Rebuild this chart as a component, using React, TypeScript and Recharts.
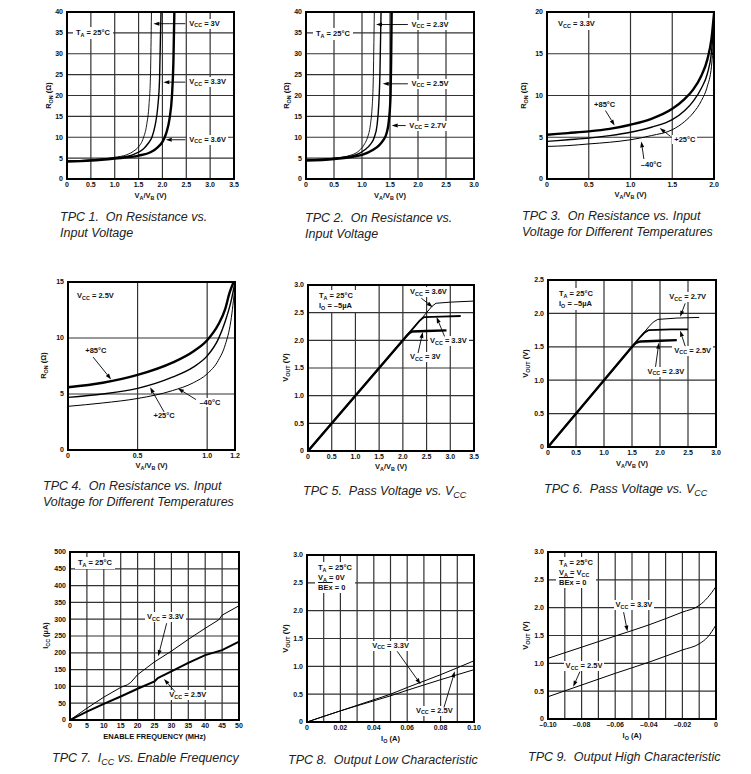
import React, { ReactNode } from "react";
import { CartesianGrid, Line, LineChart, XAxis, YAxis } from "recharts";

const FONT = '"Liberation Sans", Arial, Helvetica, sans-serif';

// ---- TPC1: R_ON vs V_A/V_B, T_A = 25°C ----
const tpc1X3V = [0, 0.5, 1.0, 1.25, 1.4, 1.5, 1.6, 1.67, 1.72, 1.75, 1.77];
const tpc1R3V = [4.3, 4.6, 5.2, 5.8, 6.7, 7.7, 9.8, 13, 18, 25, 40];
const tpc1X33V = [0, 0.5, 1.0, 1.4, 1.6, 1.7, 1.78, 1.85, 1.9, 1.94, 1.97];
const tpc1R33V = [4.3, 4.5, 5.0, 5.9, 7.2, 8.5, 10, 13, 17, 24, 40];
const tpc1X36V = [0, 0.5, 1.0, 1.5, 1.75, 1.9, 2.0, 2.08, 2.15, 2.2, 2.23, 2.25];
const tpc1R36V = [4.2, 4.4, 4.9, 5.6, 6.4, 7.6, 8.9, 11, 14.5, 20, 28, 40];

// ---- TPC2 ----
const tpc2X23V = [0, 0.5, 0.8, 0.95, 1.05, 1.1, 1.15, 1.18, 1.2, 1.22];
const tpc2R23V = [4.6, 5.0, 5.7, 6.8, 8.5, 10, 13, 17, 23, 40];
const tpc2X25V = [0, 0.5, 0.9, 1.05, 1.15, 1.22, 1.27, 1.3, 1.32, 1.34];
const tpc2R25V = [4.5, 4.9, 5.8, 7.0, 8.3, 10, 13, 18, 25, 40];
const tpc2X27V = [0, 0.5, 1.0, 1.2, 1.3, 1.38, 1.44, 1.48, 1.51, 1.52, 1.53];
const tpc2R27V = [4.4, 4.8, 5.8, 7.0, 8.0, 9.3, 11, 14, 20, 28, 40];

// ---- TPC3: V_CC = 3.3V, temperatures ----
const tpc3X = [0, 0.25, 0.5, 0.75, 1.0, 1.25, 1.5, 1.65, 1.75, 1.85, 1.92, 1.97, 2.0];
const tpc3R85 = [5.3, 5.5, 5.7, 6.0, 6.5, 7.2, 8.4, 9.6, 10.7, 12.4, 14.3, 16.8, 19.8];
const tpc3R25 = [4.5, 4.7, 4.9, 5.2, 5.6, 6.2, 7.1, 8.2, 9.3, 10.9, 12.6, 15.2, 19.0];
const tpc3Rm40 = [3.9, 4.0, 4.2, 4.4, 4.7, 5.2, 5.9, 6.9, 7.9, 9.4, 11.1, 13.5, 17.5];

// ---- TPC4: V_CC = 2.5V, temperatures ----
const tpc4X85 = [0, 0.25, 0.5, 0.75, 0.9, 1.0, 1.08, 1.13, 1.16, 1.19];
const tpc4R85 = [5.6, 6.0, 6.7, 7.8, 8.8, 9.8, 11.2, 12.6, 14.0, 15];
const tpc4X = [0, 0.25, 0.5, 0.75, 0.9, 1.0, 1.08, 1.13, 1.17, 1.2];
const tpc4R25 = [4.7, 5.0, 5.5, 6.5, 7.4, 8.4, 9.9, 11.5, 13.2, 15];
const tpc4Rm40 = [3.9, 4.2, 4.6, 5.3, 6.0, 6.8, 8.0, 9.4, 11.5, 14.6];

// ---- TPC5: pass voltage ----
const tpc5X3V = [0, 2.1, 2.15, 2.2, 2.5, 2.92];
const tpc5V3V = [0, 2.1, 2.14, 2.16, 2.17, 2.18];
const tpc5X33V = [0, 2.35, 2.4, 2.45, 2.8, 3.22];
const tpc5V33V = [0, 2.35, 2.39, 2.42, 2.43, 2.44];
const tpc5X36V = [0, 2.55, 2.62, 2.7, 3.0, 3.5];
const tpc5V36V = [0, 2.55, 2.62, 2.67, 2.69, 2.71];

// ---- TPC6 ----
const tpc6X23V = [0, 1.52, 1.57, 1.65, 2.0, 2.3];
const tpc6V23V = [0, 1.52, 1.56, 1.58, 1.59, 1.6];
const tpc6X25V = [0, 1.65, 1.72, 1.8, 2.2, 2.5];
const tpc6V25V = [0, 1.65, 1.71, 1.75, 1.76, 1.76];
const tpc6X27V = [0, 1.8, 1.88, 1.96, 2.3, 2.7];
const tpc6V27V = [0, 1.8, 1.87, 1.91, 1.93, 1.94];

// ---- TPC7: I_CC vs enable frequency ----
const tpc7F33V = [0, 5, 10, 15, 17, 18, 20, 25, 30, 35, 40, 44, 45, 50];
const tpc7I33V = [0, 35, 68, 97, 105, 112, 135, 173, 205, 240, 273, 298, 312, 340];
const tpc7F25V = [0, 5, 10, 15, 20, 25, 26, 27, 30, 35, 40, 45, 50];
const tpc7I25V = [0, 25, 48, 70, 93, 115, 125, 130, 145, 170, 193, 208, 233];

// ---- TPC8: output low ----
const tpc8I = [0, 0.02, 0.04, 0.05, 0.06, 0.08, 0.1];
const tpc8V33V = [0, 0.2, 0.4, 0.5, 0.62, 0.85, 1.1];
const tpc8V25V = [0, 0.2, 0.38, 0.47, 0.57, 0.76, 0.94];

// ---- TPC9: output high ----
const tpc9I = [-0.1, -0.08, -0.06, -0.04, -0.02, -0.01, -0.005, 0];
const tpc9V33V = [1.09, 1.29, 1.49, 1.69, 1.92, 2.04, 2.18, 2.38];
const tpc9V25V = [0.4, 0.61, 0.82, 1.02, 1.24, 1.35, 1.47, 1.69];

const range = (a: number, b: number, step: number) => {
  const out: number[] = [];
  for (let i = 0; a + i * step <= b + step / 1000; i++) out.push(+(a + i * step).toFixed(4));
  return out;
};
const pts = (xs: number[], ys: number[]) => xs.map((x, i) => ({ x, y: ys[i] }));

const fmt1 = (v: number) => (v === 0 ? "0" : v.toFixed(1));
const fmtInt = (v: number) => String(v);
const fmtCent = (v: number) => {
  const k = Math.round(v * 100);
  if (k % 2 !== 0) return "";
  if (k === 0) return "0";
  return (v < 0 ? "–" : "") + Math.abs(v).toFixed(2);
};

const Sub = ({ children }: { children: ReactNode }) => (
  <span style={{ fontSize: "0.72em", position: "relative", top: "0.3em" }}>{children}</span>
);
const Vcc = ({ v }: { v: string }) => (
  <>
    V<Sub>CC</Sub> = {v}
  </>
);
const Ta = () => (
  <>
    T<Sub>A</Sub> = 25°C
  </>
);
const Io5 = () => (
  <>
    I<Sub>O</Sub> = –5µA
  </>
);
const VaVb = () => (
  <>
    V<Sub>A</Sub>/V<Sub>B</Sub> (V)
  </>
);
const Ron = () => (
  <>
    R<Sub>ON</Sub> (Ω)
  </>
);
const Vout = () => (
  <>
    V<Sub>OUT</Sub> (V)
  </>
);

type Rect = { x: number; y: number; w: number; h: number };
type Series = { data: { x: number; y: number }[]; width: number; curve?: "monotone" | "linear" };
type Note = { at: [number, number]; text: ReactNode; tail?: [number, number]; tip?: [number, number] };
type Panel = {
  rect: Rect;
  xDomain: [number, number];
  yDomain: [number, number];
  xTicks: number[];
  yTicks: number[];
  xFmt: (v: number) => string;
  yFmt: (v: number) => string;
  xTitle: ReactNode;
  yTitle: ReactNode;
  yTitleDx: number;
  xTitleDy: number;
  series: Series[];
  info: { dx: number; dy: number; lines: ReactNode[] };
  notes: Note[];
  caption: ReactNode[];
  capPos: [number, number];
};

const panels: Panel[] = [
  {
    rect: { x: 67, y: 12, w: 167, h: 167 },
    xDomain: [0, 3.5], yDomain: [0, 40],
    xTicks: range(0, 3.5, 0.5), yTicks: range(0, 40, 5),
    xFmt: fmt1, yFmt: fmtInt,
    xTitle: <VaVb />, yTitle: <Ron />, yTitleDx: -19, xTitleDy: 17,
    series: [
      { data: pts(tpc1X3V, tpc1R3V), width: 0.9 },
      { data: pts(tpc1X33V, tpc1R33V), width: 1.4 },
      { data: pts(tpc1X36V, tpc1R36V), width: 2.4 },
    ],
    info: { dx: 6, dy: 15, lines: [<Ta />] },
    notes: [
      { at: [2.52, 37.2], text: <Vcc v="3V" />, tail: [2.48, 37.2], tip: [1.81, 37.2] },
      { at: [2.52, 23.2], text: <Vcc v="3.3V" />, tail: [2.48, 23.2], tip: [2.02, 23.2] },
      { at: [2.52, 9.4], text: <Vcc v="3.6V" />, tail: [2.48, 9.4], tip: [2.07, 9.4] },
    ],
    caption: ["TPC 1.  On Resistance vs.", "Input Voltage"],
    capPos: [60, 217],
  },
  {
    rect: { x: 306, y: 12, w: 168, h: 167 },
    xDomain: [0, 3.0], yDomain: [0, 40],
    xTicks: range(0, 3, 0.5), yTicks: range(0, 40, 5),
    xFmt: fmt1, yFmt: fmtInt,
    xTitle: <VaVb />, yTitle: <Ron />, yTitleDx: -20, xTitleDy: 17,
    series: [
      { data: pts(tpc2X23V, tpc2R23V), width: 0.9 },
      { data: pts(tpc2X25V, tpc2R25V), width: 1.4 },
      { data: pts(tpc2X27V, tpc2R27V), width: 2.4 },
    ],
    info: { dx: 7, dy: 16, lines: [<Ta />] },
    notes: [
      { at: [1.85, 37], text: <Vcc v="2.3V" />, tail: [1.82, 37], tip: [1.25, 37] },
      { at: [1.85, 22.8], text: <Vcc v="2.5V" />, tail: [1.82, 22.8], tip: [1.37, 22.8] },
      { at: [1.81, 12.8], text: <Vcc v="2.7V" />, tail: [1.78, 12.8], tip: [1.53, 12.8] },
    ],
    caption: ["TPC 2.  On Resistance vs.", "Input Voltage"],
    capPos: [305, 218],
  },
  {
    rect: { x: 547, y: 12, w: 167, h: 167 },
    xDomain: [0, 2.0], yDomain: [0, 20],
    xTicks: range(0, 2, 0.5), yTicks: range(0, 20, 5),
    xFmt: fmt1, yFmt: fmtInt,
    xTitle: <VaVb />, yTitle: <Ron />, yTitleDx: -24, xTitleDy: 16,
    series: [
      { data: pts(tpc3X, tpc3Rm40), width: 1.0 },
      { data: pts(tpc3X, tpc3R25), width: 1.4 },
      { data: pts(tpc3X, tpc3R85), width: 2.4 },
    ],
    info: { dx: 8, dy: 6, lines: [<Vcc v="3.3V" />] },
    notes: [
      { at: [0.54, 8.9], text: "+85°C", tail: [0.7, 8.2], tip: [0.81, 6.4] },
      { at: [1.5, 4.7], text: "+25°C", tail: [1.48, 5.1], tip: [1.35, 6.1] },
      { at: [1.1, 1.7], text: "–40°C", tail: [1.16, 2.4], tip: [1.13, 4.5] },
    ],
    caption: ["TPC 3.  On Resistance vs. Input", "Voltage for Different Temperatures"],
    capPos: [522, 216],
  },
  {
    rect: { x: 68, y: 282, w: 167, h: 168 },
    xDomain: [0, 1.2], yDomain: [0, 15],
    xTicks: [0, 0.5, 1.0, 1.2], yTicks: [0, 5, 10, 15],
    xFmt: fmt1, yFmt: fmtInt,
    xTitle: <VaVb />, yTitle: <Ron />, yTitleDx: -25, xTitleDy: 16,
    series: [
      { data: pts(tpc4X, tpc4Rm40), width: 1.0 },
      { data: pts(tpc4X, tpc4R25), width: 1.4 },
      { data: pts(tpc4X85, tpc4R85), width: 2.4 },
    ],
    info: { dx: 6, dy: 8, lines: [<Vcc v="2.5V" />] },
    notes: [
      { at: [0.11, 8.8], text: "+85°C", tail: [0.18, 8.3], tip: [0.31, 6.3] },
      { at: [0.6, 3.0], text: "+25°C", tail: [0.69, 3.4], tip: [0.59, 5.6] },
      { at: [0.93, 4.2], text: "–40°C", tail: [0.92, 4.5], tip: [0.79, 5.5] },
    ],
    caption: ["TPC 4.  On Resistance vs. Input", "Voltage for Different Temperatures"],
    capPos: [43, 486],
  },
  {
    rect: { x: 308, y: 285, w: 166, h: 166 },
    xDomain: [0, 3.5], yDomain: [0, 3.0],
    xTicks: range(0, 3.5, 0.5), yTicks: range(0, 3, 0.5),
    xFmt: fmt1, yFmt: fmt1,
    xTitle: <VaVb />, yTitle: <Vout />, yTitleDx: -23, xTitleDy: 16,
    series: [
      { data: pts(tpc5X36V, tpc5V36V), width: 1.0, curve: "linear" },
      { data: pts(tpc5X33V, tpc5V33V), width: 1.8, curve: "linear" },
      { data: pts(tpc5X3V, tpc5V3V), width: 2.4, curve: "linear" },
    ],
    info: { dx: 8, dy: 5, lines: [<Ta />, <Io5 />] },
    notes: [
      { at: [2.11, 2.87], text: <Vcc v="3.6V" />, tail: [2.39, 2.76], tip: [2.63, 2.6] },
      { at: [2.53, 1.98], text: <Vcc v="3.3V" />, tail: [2.88, 2.07], tip: [2.71, 2.42] },
      { at: [2.11, 1.7], text: <Vcc v="3V" />, tail: [2.32, 1.77], tip: [2.42, 2.15] },
    ],
    caption: [<>TPC 5.  Pass Voltage vs. V<Sub>CC</Sub></>],
    capPos: [303, 491],
  },
  {
    rect: { x: 548, y: 280, w: 168, h: 167 },
    xDomain: [0, 3.0], yDomain: [0, 2.5],
    xTicks: range(0, 3, 0.5), yTicks: range(0, 2.5, 0.5),
    xFmt: fmt1, yFmt: fmt1,
    xTitle: <VaVb />, yTitle: <Vout />, yTitleDx: -23, xTitleDy: 17,
    series: [
      { data: pts(tpc6X27V, tpc6V27V), width: 1.0, curve: "linear" },
      { data: pts(tpc6X25V, tpc6V25V), width: 1.8, curve: "linear" },
      { data: pts(tpc6X23V, tpc6V23V), width: 2.4, curve: "linear" },
    ],
    info: { dx: 8, dy: 8, lines: [<Ta />, <Io5 />] },
    notes: [
      { at: [2.13, 2.24], text: <Vcc v="2.7V" />, tail: [2.45, 2.15], tip: [2.36, 1.95] },
      { at: [2.22, 1.44], text: <Vcc v="2.5V" />, tail: [2.45, 1.51], tip: [2.36, 1.74] },
      { at: [1.74, 1.13], text: <Vcc v="2.3V" />, tail: [1.92, 1.2], tip: [1.98, 1.56] },
    ],
    caption: [<>TPC 6.  Pass Voltage vs. V<Sub>CC</Sub></>],
    capPos: [544, 489],
  },
  {
    rect: { x: 70, y: 552, w: 169, h: 168 },
    xDomain: [0, 50], yDomain: [0, 500],
    xTicks: range(0, 50, 5), yTicks: range(0, 500, 50),
    xFmt: fmtInt, yFmt: fmtInt,
    xTitle: "ENABLE FREQUENCY (MHz)",
    yTitle: <>I<Sub>CC</Sub> (µA)</>, yTitleDx: -25, xTitleDy: 17,
    series: [
      { data: pts(tpc7F33V, tpc7I33V), width: 1.0, curve: "linear" },
      { data: pts(tpc7F25V, tpc7I25V), width: 2.0, curve: "linear" },
    ],
    info: { dx: 5, dy: 5, lines: [<Ta />] },
    notes: [
      { at: [22.2, 306], text: <Vcc v="3.3V" />, tail: [28.6, 288], tip: [26.1, 190] },
      { at: [28.8, 74], text: <Vcc v="2.5V" />, tail: [31.1, 84], tip: [27.8, 122] },
    ],
    caption: [<>TPC 7.  I<Sub>CC</Sub> vs. Enable Frequency</>],
    capPos: [52, 758],
  },
  {
    rect: { x: 307, y: 555, w: 167, h: 167 },
    xDomain: [0, 0.1], yDomain: [0, 3.0],
    xTicks: range(0, 0.1, 0.01), yTicks: range(0, 3, 0.5),
    xFmt: fmtCent, yFmt: fmt1,
    xTitle: <>I<Sub>O</Sub> (A)</>, yTitle: <Vout />, yTitleDx: -22, xTitleDy: 17,
    series: [
      { data: pts(tpc8I, tpc8V33V), width: 1.0 },
      { data: pts(tpc8I, tpc8V25V), width: 1.0 },
    ],
    info: {
      dx: 8, dy: 7,
      lines: [<Ta />, <>V<Sub>A</Sub> = 0V</>, <><span style={{ textDecoration: "overline" }}>BEx</span> = 0</>],
    },
    notes: [
      { at: [0.0378, 1.37], text: <Vcc v="3.3V" />, tail: [0.054, 1.27], tip: [0.068, 0.68] },
      { at: [0.064, 0.2], text: <Vcc v="2.5V" />, tail: [0.082, 0.26], tip: [0.0885, 0.91] },
    ],
    caption: ["TPC 8.  Output Low Characteristic"],
    capPos: [288, 760],
  },
  {
    rect: { x: 548, y: 552, w: 168, h: 167 },
    xDomain: [-0.1, 0], yDomain: [0, 3.0],
    xTicks: range(-0.1, 0, 0.01), yTicks: range(0, 3, 0.5),
    xFmt: fmtCent, yFmt: fmt1,
    xTitle: <>I<Sub>O</Sub> (A)</>, yTitle: <Vout />, yTitleDx: -23, xTitleDy: 17,
    series: [
      { data: pts(tpc9I, tpc9V33V), width: 1.0 },
      { data: pts(tpc9I, tpc9V25V), width: 1.0 },
    ],
    info: {
      dx: 8, dy: 5,
      lines: [<Ta />, <>V<Sub>A</Sub> = V<Sub>CC</Sub></>, <><span style={{ textDecoration: "overline" }}>BEx</span> = 0</>],
    },
    notes: [
      { at: [-0.061, 2.04], text: <Vcc v="3.3V" />, tail: [-0.055, 1.92], tip: [-0.0527, 1.57] },
      { at: [-0.0907, 0.95], text: <Vcc v="2.5V" />, tail: [-0.081, 0.85], tip: [-0.085, 0.58] },
    ],
    caption: ["TPC 9.  Output High Characteristic"],
    capPos: [528, 757],
  },
];

const toPx = (p: Panel, x: number, y: number): [number, number] => [
  p.rect.x + ((x - p.xDomain[0]) / (p.xDomain[1] - p.xDomain[0])) * p.rect.w,
  p.rect.y + ((p.yDomain[1] - y) / (p.yDomain[1] - p.yDomain[0])) * p.rect.h,
];

const L = 40;
const T = 6;
const R = 14;
const B = 22;
const tickStyle = { fontSize: 7, fontWeight: 700, fill: "#111", fontFamily: FONT };
const labelStyle: React.CSSProperties = {
  position: "absolute",
  fontSize: 7.5,
  fontWeight: 700,
  lineHeight: "9px",
  background: "#fff",
  padding: "0 2px",
  whiteSpace: "nowrap",
  color: "#111",
};

function PanelChart({ p }: { p: Panel }) {
  const { rect } = p;
  return (
    <>
      <div style={{ position: "absolute", left: rect.x - L, top: rect.y - T }}>
        <LineChart
          width={rect.w + L + R}
          height={rect.h + T + B}
          margin={{ top: T, right: R, left: 0, bottom: 0 }}
        >
          <CartesianGrid stroke="#333" strokeWidth={1.2} />
          <XAxis
            type="number"
            dataKey="x"
            domain={p.xDomain}
            ticks={p.xTicks}
            interval={0}
            allowDataOverflow
            height={B}
            tickLine={false}
            axisLine={false}
            tickSize={0}
            tickMargin={3}
            tick={tickStyle}
            tickFormatter={p.xFmt}
          />
          <YAxis
            type="number"
            dataKey="y"
            domain={p.yDomain}
            ticks={p.yTicks}
            interval={0}
            allowDataOverflow
            width={L}
            tickLine={false}
            axisLine={false}
            tickSize={0}
            tickMargin={4}
            tick={tickStyle}
            tickFormatter={p.yFmt}
          />
          {p.series.map((s, i) => (
            <Line
              key={i}
              data={s.data}
              dataKey="y"
              type={s.curve ?? "monotone"}
              stroke="#000"
              strokeWidth={s.width}
              dot={false}
              isAnimationActive={false}
            />
          ))}
        </LineChart>
      </div>
      {/* info box */}
      <div style={{ ...labelStyle, left: rect.x + p.info.dx, top: rect.y + p.info.dy, padding: "1px 3px" }}>
        {p.info.lines.map((l, i) => (
          <div key={i}>{l}</div>
        ))}
      </div>
      {/* curve notes */}
      {p.notes.map((n, i) => {
        const [nx, ny] = toPx(p, n.at[0], n.at[1]);
        return (
          <div key={i} style={{ ...labelStyle, left: nx, top: ny - 5 }}>
            {n.text}
          </div>
        );
      })}
      {/* frame */}
      <div
        style={{
          position: "absolute",
          left: rect.x - 1,
          top: rect.y - 1,
          width: rect.w + 2,
          height: rect.h + 2,
          border: "2px solid #000",
          boxSizing: "border-box",
        }}
      />
      {/* axis titles */}
      <div
        style={{
          position: "absolute",
          left: rect.x,
          width: rect.w,
          top: rect.y + rect.h + p.xTitleDy - 5,
          textAlign: "center",
          fontSize: 7.5,
          fontWeight: 700,
          color: "#111",
          whiteSpace: "nowrap",
        }}
      >
        {p.xTitle}
      </div>
      <div
        style={{
          position: "absolute",
          left: rect.x + p.yTitleDx - 50,
          top: rect.y + rect.h / 2 - 5,
          width: 100,
          textAlign: "center",
          fontSize: 7.5,
          fontWeight: 700,
          color: "#111",
          whiteSpace: "nowrap",
          transform: "rotate(-90deg)",
        }}
      >
        {p.yTitle}
      </div>
      {/* caption */}
      <div
        style={{
          position: "absolute",
          left: p.capPos[0],
          top: p.capPos[1] - 8,
          fontSize: 12.5,
          fontStyle: "italic",
          lineHeight: "16px",
          color: "#222",
          whiteSpace: "pre",
        }}
      >
        {p.caption.map((c, i) => (
          <div key={i}>{c}</div>
        ))}
      </div>
    </>
  );
}

function Arrows() {
  const items: ReactNode[] = [];
  panels.forEach((p, pi) =>
    p.notes.forEach((n, ni) => {
      if (!n.tail || !n.tip) return;
      const [x1, y1] = toPx(p, n.tail[0], n.tail[1]);
      const [x2, y2] = toPx(p, n.tip[0], n.tip[1]);
      const a = Math.atan2(y2 - y1, x2 - x1);
      const len = 6;
      const hw = 2;
      const bx = x2 - len * Math.cos(a);
      const by = y2 - len * Math.sin(a);
      const px = -Math.sin(a) * hw;
      const py = Math.cos(a) * hw;
      items.push(
        <g key={`${pi}-${ni}`}>
          <line x1={x1} y1={y1} x2={bx} y2={by} stroke="#000" strokeWidth={0.9} />
          <polygon points={`${x2},${y2} ${bx + px},${by + py} ${bx - px},${by - py}`} fill="#000" />
        </g>
      );
    })
  );
  return (
    <svg width={751} height={774} style={{ position: "absolute", left: 0, top: 0, pointerEvents: "none" }}>
      {items}
    </svg>
  );
}

export default function App() {
  return (
    <div
      style={{
        position: "absolute",
        left: 0,
        top: 0,
        width: 751,
        height: 774,
        background: "#fff",
        fontFamily: FONT,
        overflow: "hidden",
      }}
    >
      {panels.map((p, i) => (
        <PanelChart key={i} p={p} />
      ))}
      <Arrows />
    </div>
  );
}
